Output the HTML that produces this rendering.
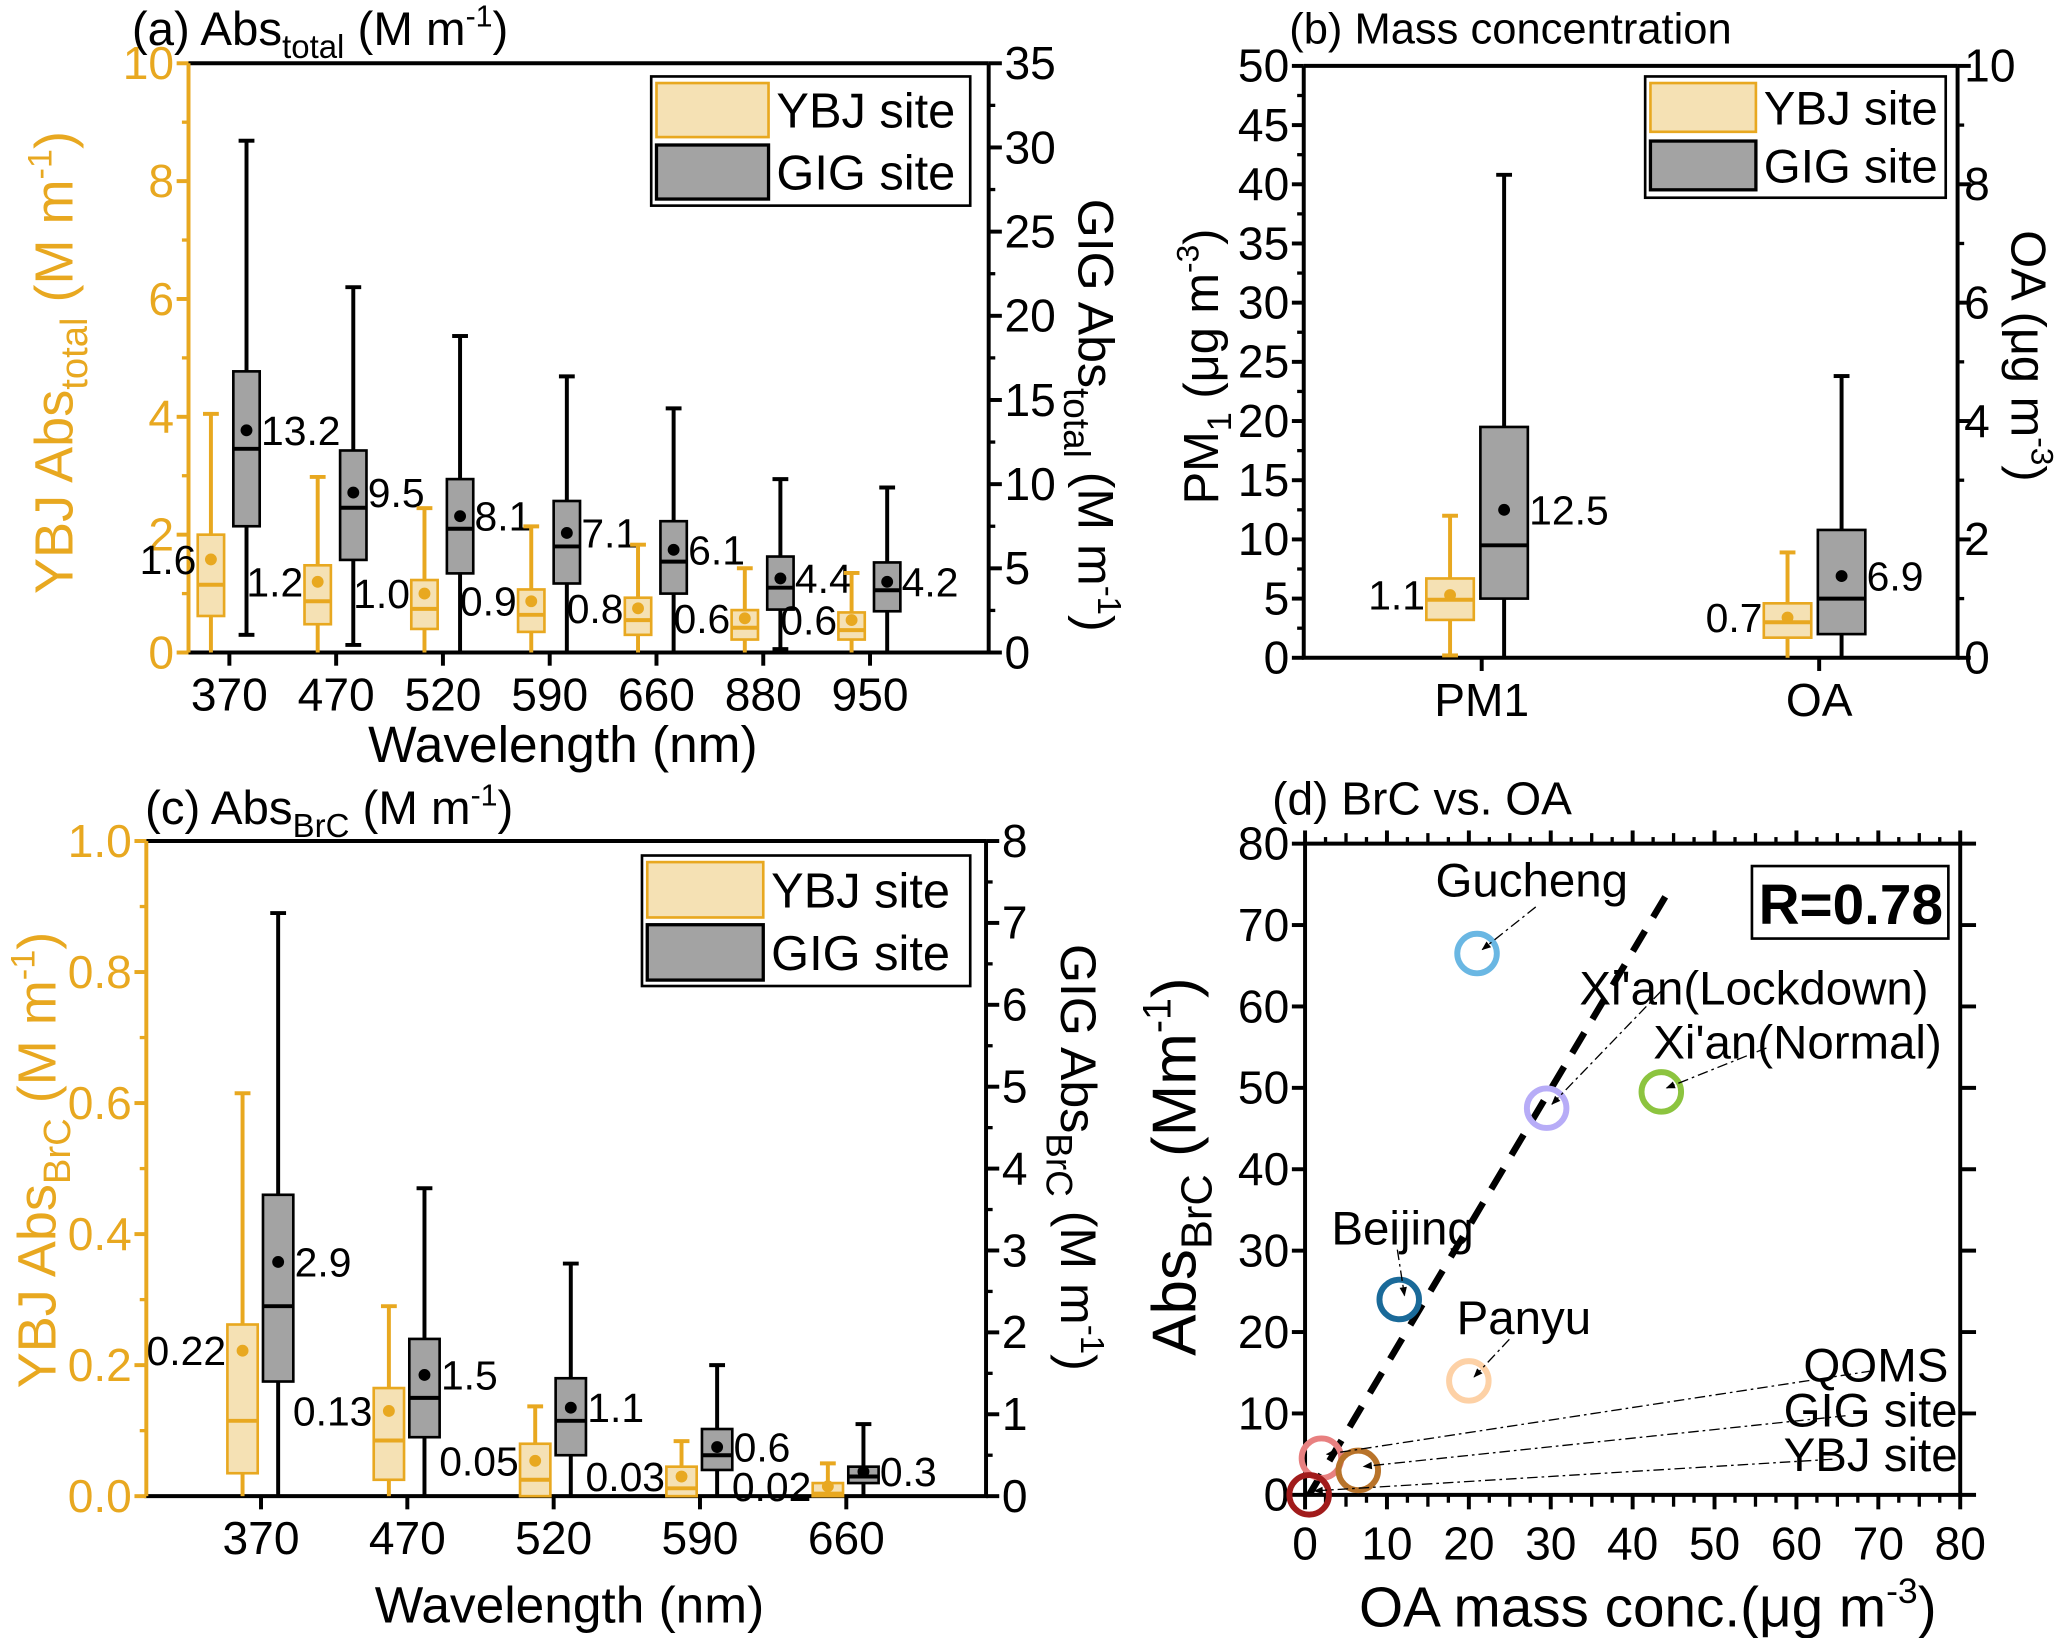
<!DOCTYPE html>
<html><head><meta charset="utf-8">
<style>
html,body{margin:0;padding:0;background:#fff;}
svg{display:block;}
text{font-family:"Liberation Sans",Arial,sans-serif;}
</style></head>
<body>
<svg id="fig" xmlns="http://www.w3.org/2000/svg" width="2067" height="1638" viewBox="0 0 1568 1242.6" preserveAspectRatio="none">
<defs>
<marker id="arr" viewBox="0 0 10 10" refX="9" refY="5" markerWidth="9" markerHeight="7" orient="auto" markerUnits="userSpaceOnUse"><path d="M0,1 L10,5 L0,9 z" fill="#000"/></marker>
</defs>
</svg>
<script>
// ---------- Panel (a) data ----------
const aCats=['370','470','520','590','660','880','950'];
const aYbjMin=[0,0,0,0,0,0,0];
const aYbjQ1=[0.62,0.48,0.40,0.35,0.30,0.22,0.22];
const aYbjMed=[1.15,0.87,0.74,0.64,0.55,0.42,0.38];
const aYbjQ3=[2.0,1.48,1.23,1.07,0.93,0.72,0.68];
const aYbjMax=[4.05,2.98,2.45,2.14,1.83,1.43,1.35];
const aYbjMean=[1.58,1.2,1.0,0.87,0.75,0.58,0.55];
const aYbjLabels=['1.6','1.2','1.0','0.9','0.8','0.6','0.6'];
const aGigMin=[1.05,0.45,0,0,0,0.2,0];
const aGigQ1=[7.5,5.5,4.7,4.1,3.5,2.55,2.45];
const aGigMed=[12.1,8.6,7.35,6.3,5.4,3.85,3.7];
const aGigQ3=[16.7,12.0,10.3,9.0,7.8,5.7,5.35];
const aGigMax=[30.4,21.7,18.8,16.4,14.5,10.3,9.8];
const aGigMean=[13.2,9.5,8.1,7.1,6.1,4.4,4.2];
const aGigLabels=['13.2','9.5','8.1','7.1','6.1','4.4','4.2'];
const aLeftTicks=[0,2,4,6,8,10];
const aRightTicks=[0,5,10,15,20,25,30,35];
// ---------- Panel (b) data ----------
const bCats=['PM1','OA'];
const bYbjMin=[0.2,0];
const bYbjQ1=[3.2,1.7];
const bYbjMed=[4.9,3.0];
const bYbjQ3=[6.7,4.6];
const bYbjMax=[12.0,8.9];
const bYbjMean=[5.3,3.4];
const bYbjLabels=['1.1','0.7'];
const bGigMin=[0,0];
const bGigQ1=[5.0,2.0];
const bGigMed=[9.5,5.0];
const bGigQ3=[19.5,10.8];
const bGigMax=[40.8,23.8];
const bGigMean=[12.5,6.9];
const bGigLabels=['12.5','6.9'];
const bLeftTicks=[0,5,10,15,20,25,30,35,40,45,50];
const bRightTicks=[0,2,4,6,8,10];
// ---------- Panel (c) data ----------
const cCats=['370','470','520','590','660'];
const cYbjMin=[0,0,0,0,0];
const cYbjQ1=[0.035,0.025,0.0,0.0,0.0];
const cYbjMed=[0.115,0.085,0.025,0.012,0.004];
const cYbjQ3=[0.262,0.165,0.08,0.045,0.02];
const cYbjMax=[0.615,0.29,0.137,0.084,0.05];
const cYbjMean=[0.222,0.13,0.054,0.03,0.015];
const cYbjLabels=['0.22','0.13','0.05','0.03','0.02'];
const cGigMin=[0,0,0,0,0];
const cGigQ1=[1.4,0.72,0.5,0.32,0.16];
const cGigMed=[2.32,1.2,0.92,0.5,0.24];
const cGigQ3=[3.68,1.92,1.44,0.82,0.36];
const cGigMax=[7.12,3.76,2.84,1.6,0.88];
const cGigMean=[2.86,1.48,1.08,0.6,0.3];
const cGigLabels=['2.9','1.5','1.1','0.6','0.3'];
const cLeftTicks=[0,0.2,0.4,0.6,0.8,1.0];
const cRightTicks=[0,1,2,3,4,5,6,7,8];
// ---------- Panel (d) data ----------
const dSites=['Gucheng',"Xi'an(Lockdown)","Xi'an(Normal)",'Beijing','Panyu','QOMS','GIG site','YBJ site'];
const dOA=[21,29.5,43.5,11.5,20,2,6.5,0.5];
const dBrC=[66.5,47.5,49.5,24,14,4.5,3,0];
const dColors=['#6ab7e3','#b7acf7','#8cc43f','#1a6a99','#fdd1a6','#e88080','#b8732a','#a11b1b'];
const dFitX=[0.5,44];
const dFitY=[0,73.5];
const dTicks=[0,10,20,30,40,50,60,70,80];

const NS='http://www.w3.org/2000/svg';
const svg=document.getElementById('fig');
const OR='#e8a820', ORF='#f5e1b4', GR='#a3a3a3';
const TK=35;
function mk(tag,attrs,parent,txt){const e=document.createElementNS(NS,tag);for(const k in attrs)e.setAttribute(k,attrs[k]);if(txt!==undefined)e.textContent=txt;(parent||svg).appendChild(e);return e;}
function grp(name){const g=mk('g',{});


return g;}
function line(p,x1,y1,x2,y2,c,w,extra){const o={x1,y1,x2,y2,stroke:c,'stroke-width':w};if(extra)Object.assign(o,extra);return mk('line',o,p);}
function txt(p,x,y,s,size,fill,anchor,name,extra){const o={x,y,'font-size':size,fill:fill||'#000','text-anchor':anchor||'middle'};if(extra)Object.assign(o,extra);const t=mk('text',o,p);
t.innerHTML=s;


return t;}

function boxplot(g,cx,w,mn,q1,md,q3,mx,mean,yf,stroke,fill,dot,name){
  const b=grp(name); g.appendChild(b);
  line(b,cx,yf(mn),cx,yf(q1),stroke,3);
  line(b,cx,yf(q3),cx,yf(mx),stroke,3);
  line(b,cx-6,yf(mx),cx+6,yf(mx),stroke,3);
  if(mn>0.001) line(b,cx-6,yf(mn),cx+6,yf(mn),stroke,3);
  mk('rect',{x:cx-w/2,y:yf(q3),width:w,height:Math.max(yf(q1)-yf(q3),1),fill,stroke,'stroke-width':2},b);
  line(b,cx-w/2,yf(md),cx+w/2,yf(md),stroke,3);
  mk('circle',{cx,cy:yf(mean),r:4.5,fill:dot},b);
}

function legend(g,x,y,w,h,pw,ph,fs){
  const L=grp('legend'); g.appendChild(L);
  mk('rect',{x,y,width:w,height:h,fill:'#fff',stroke:'#000','stroke-width':2},L);
  const r1=mk('rect',{x:x+4,y:y+5,width:pw,height:ph,fill:ORF,stroke:OR,'stroke-width':2},L);
  
  
  const r2=mk('rect',{x:x+4,y:y+h/2+3,width:pw,height:ph,fill:GR,stroke:'#000','stroke-width':2.5},L);
  
  
  txt(L,x+pw+10,y+5+ph/2+fs*0.36,'YBJ site',fs,'#000','start','legend-entry-ybj');
  txt(L,x+pw+10,y+h/2+3+ph/2+fs*0.36,'GIG site',fs,'#000','start','legend-entry-gig');
}

function boxPanel(cfg){
  const g=grp(cfg.name);
  const {L,R,T,B}=cfg;
  const yl=v=>B-(v-0)/(cfg.lmax)*(B-T);
  const yr=v=>B-(v-0)/(cfg.rmax)*(B-T);
  const xc=i=>cfg.x0+cfg.dx*i;
  line(g,L,T,R,T,'#000',3);
  line(g,L-1.5,B,R+1.5,B,'#000',3);
  line(g,L,T,L,B,cfg.lcol,3);
  line(g,R,T,R,B,'#000',3);
  cfg.lt.forEach((v,i)=>{line(g,L,yl(v),L-9,yl(v),cfg.lcol,3);
    txt(g,L-11,yl(v)+12,cfg.lfmt(v),TK,cfg.lcol,'end','left-tick-label');
    if(i<cfg.lt.length-1){const m=(v+cfg.lt[i+1])/2;line(g,L,yl(m),L-5,yl(m),cfg.lcol,2.5);}});
  cfg.rt.forEach((v,i)=>{line(g,R,yr(v),R+10,yr(v),'#000',3);
    txt(g,R+12,yr(v)+12,cfg.rfmt(v),TK,'#000','start','right-tick-label');
    if(i<cfg.rt.length-1){const m=(v+cfg.rt[i+1])/2;line(g,R,yr(m),R+5,yr(m),'#000',2.5);}});
  cfg.cats.forEach((c,i)=>{line(g,xc(i),B,xc(i),B+10,'#000',3);
    txt(g,xc(i),B+44,c,TK,'#000','middle','x-tick-label');});
  cfg.cats.forEach((c,i)=>{
    const cx1=xc(i)+cfg.off1, cx2=xc(i)+cfg.off2;
    boxplot(g,cx1,cfg.bw,cfg.y.min[i],cfg.y.q1[i],cfg.y.med[i],cfg.y.q3[i],cfg.y.max[i],cfg.y.mean[i],yl,OR,ORF,OR,'box-ybj-'+c);
    boxplot(g,cx2,cfg.bw,cfg.g.min[i],cfg.g.q1[i],cfg.g.med[i],cfg.g.q3[i],cfg.g.max[i],cfg.g.mean[i],yr,'#000',GR,'#000','box-gig-'+c);
    txt(g,cx1-cfg.bw/2-1,yl(cfg.y.mean[i])+11,cfg.y.lab[i],31,'#000','end','mean-label-ybj');
    txt(g,cx2+cfg.bw/2+1,yr(cfg.g.mean[i])+11,cfg.g.lab[i],31,'#000','start','mean-label-gig');
  });
  return g;
}

// Panel a
const ga=boxPanel({name:'panel-a',L:143,R:750,T:48,B:495,lmax:10,rmax:35,lcol:OR,
  lt:aLeftTicks,rt:aRightTicks,lfmt:v=>String(v),rfmt:v=>String(v),cats:aCats,x0:174,dx:81,off1:-14,off2:13,bw:20,
  y:{min:aYbjMin,q1:aYbjQ1,med:aYbjMed,q3:aYbjQ3,max:aYbjMax,mean:aYbjMean,lab:aYbjLabels},
  g:{min:aGigMin,q1:aGigQ1,med:aGigMed,q3:aGigQ3,max:aGigMax,mean:aGigMean,lab:aGigLabels}});
legend(ga,494,58,242,98,85,41,37);
txt(ga,100,34,'(a) Abs<tspan font-size="25" dy="10">total</tspan><tspan dy="-10"> (M m</tspan><tspan font-size="23" dy="-14">-1</tspan><tspan dy="14">)</tspan>',36,'#000','start','panel-a-title');
txt(ga,427,578,'Wavelength (nm)',39,'#000','middle','x-axis-title-a');
txt(ga,0,0,'YBJ Abs<tspan font-size="29" dy="11">total</tspan><tspan dy="-11"> (M m</tspan><tspan font-size="26" dy="-16">-1</tspan><tspan dy="16">)</tspan>',41,OR,'middle','y-axis-title-a-left',{transform:'translate(55,275) rotate(-90)'});
txt(ga,0,0,'GIG Abs<tspan font-size="28" dy="11">total</tspan><tspan dy="-11"> (M m</tspan><tspan font-size="25" dy="-15">-1</tspan><tspan dy="15">)</tspan>',38,'#000','middle','y-axis-title-a-right',{transform:'translate(818,315) rotate(90)'});

// Panel b
const gb2=boxPanel({name:'panel-b',L:989,R:1485,T:50,B:499,lmax:50,rmax:50,lcol:'#000',
  lt:bLeftTicks,rt:[],lfmt:v=>String(v),rfmt:v=>String(v),cats:bCats,x0:1124,dx:256,off1:-24,off2:17,bw:36,
  y:{min:bYbjMin,q1:bYbjQ1,med:bYbjMed,q3:bYbjQ3,max:bYbjMax,mean:bYbjMean,lab:bYbjLabels},
  g:{min:bGigMin,q1:bGigQ1,med:bGigMed,q3:bGigQ3,max:bGigMax,mean:bGigMean,lab:bGigLabels}});
(function(){const B=499,T=50,R=1485;const yr=v=>B-v/10*(B-T);
  bRightTicks.forEach((v,i)=>{line(gb2,R,yr(v),R+10,yr(v),'#000',3);
    txt(gb2,R+5,yr(v)+12,String(v),TK,'#000','start','right-tick-label');
    if(i<bRightTicks.length-1){const m=v+1;line(gb2,R,yr(m),R+5,yr(m),'#000',2.5);}});})();
legend(gb2,1248,58,228,92,80,37,36);
txt(gb2,978,33,'(b) Mass concentration',33,'#000','start','panel-b-title');
txt(gb2,0,0,'PM<tspan font-size="26" dy="10">1</tspan><tspan dy="-10">  (μg m</tspan><tspan font-size="24" dy="-15">-3</tspan><tspan dy="15">)</tspan>',37,'#000','middle','y-axis-title-b-left',{transform:'translate(924,278) rotate(-90)'});
txt(gb2,0,0,'OA (μg m<tspan font-size="24" dy="-15">-3</tspan><tspan dy="15">)</tspan>',37,'#000','middle','y-axis-title-b-right',{transform:'translate(1526,270) rotate(90)'});

// Panel c
const gc=boxPanel({name:'panel-c',L:111,R:748,T:638,B:1135,lmax:1,rmax:8,lcol:OR,
  lt:cLeftTicks,rt:cRightTicks,lfmt:v=>v.toFixed(1),rfmt:v=>String(v),cats:cCats,x0:198,dx:111,off1:-14,off2:13,bw:23,
  y:{min:cYbjMin,q1:cYbjQ1,med:cYbjMed,q3:cYbjQ3,max:cYbjMax,mean:cYbjMean,lab:cYbjLabels},
  g:{min:cGigMin,q1:cGigQ1,med:cGigMed,q3:cGigQ3,max:cGigMax,mean:cGigMean,lab:cGigLabels}});
legend(gc,487,649,249,99,88,42,37);
txt(gc,110,625,'(c) Abs<tspan font-size="25" dy="10">BrC</tspan><tspan dy="-10"> (M m</tspan><tspan font-size="23" dy="-14">-1</tspan><tspan dy="14">)</tspan>',36,'#000','start','panel-c-title');
txt(gc,432,1231,'Wavelength (nm)',39,'#000','middle','x-axis-title-c');
txt(gc,0,0,'YBJ Abs<tspan font-size="29" dy="11">BrC</tspan><tspan dy="-11"> (M m</tspan><tspan font-size="26" dy="-16">-1</tspan><tspan dy="16">)</tspan>',41,OR,'middle','y-axis-title-c-left',{transform:'translate(42,880) rotate(-90)'});
txt(gc,0,0,'GIG Abs<tspan font-size="28" dy="11">BrC</tspan><tspan dy="-11"> (M m</tspan><tspan font-size="25" dy="-15">-1</tspan><tspan dy="15">)</tspan>',38,'#000','middle','y-axis-title-c-right',{transform:'translate(805,878) rotate(90)'});

// Panel d
(function(){
  const g=grp('panel-d');
  const L=990,R=1487,T=640,B=1134;
  const xs=v=>L+v/80*(R-L), ys=v=>B-v/80*(B-T);
  line(g,L,T,R,T,'#000',3);line(g,L-1.5,B,R+1.5,B,'#000',3);line(g,L,T,L,B,'#000',3);line(g,R,T,R,B,'#000',3);
  dTicks.forEach((v,i)=>{
    line(g,L,ys(v),L-10,ys(v),'#000',3);line(g,R,ys(v),R+12,ys(v),'#000',3);
    line(g,xs(v),B,xs(v),B+11,'#000',3);line(g,xs(v),T,xs(v),T-10,'#000',3);
    txt(g,L-12,ys(v)+12,String(v),TK,'#000','end','y-tick-label-d');
    txt(g,xs(v),B+49,String(v),TK,'#000','middle','x-tick-label-d');
    if(i<dTicks.length-1){[1,2,3].forEach(k=>{const m=v+k*2.5;
      line(g,xs(m),B,xs(m),B+(k==2?9:6),'#000',2.5);line(g,xs(m),T,xs(m),T-(k==2?8:5),'#000',2.5);});}
  });
  const fl=line(g,xs(dFitX[0]),ys(dFitY[0]),xs(dFitX[1]),ys(dFitY[1]),'#000',5,{'stroke-dasharray':'18 12'});
  
  
  const lab=[[1162,680,'middle'],[1463,762,'end'],[1473,803,'end'],[1064,944,'middle'],[1156,1012,'middle'],[1478,1048,'end'],[1485,1082,'end'],[1485,1116,'end']];
  const lead=[[1165,688],[1260,752],[1340,795],[1060,948],[1145,1016],[1420,1040],[1400,1074],[1390,1107]];
  dSites.forEach((s,i)=>{
    const c=mk('circle',{cx:xs(dOA[i]),cy:ys(dBrC[i]),r:15,fill:'none',stroke:dColors[i],'stroke-width':4.5},g);
    
    
  });
  dSites.forEach((s,i)=>{
    const a=mk('line',{x1:lead[i][0],y1:lead[i][1],x2:xs(dOA[i])+4,y2:ys(dBrC[i])-3,stroke:'#000','stroke-width':1,'stroke-dasharray':'8 3 2 3','marker-end':'url(#arr)'},g);
    
    
    txt(g,lab[i][0],lab[i][1],s,36,'#000',lab[i][2],'site-label');
  });
  const rb=mk('rect',{x:1329,y:657,width:149,height:55,fill:'#fff',stroke:'#000','stroke-width':2},g);
  
  
  txt(g,1404,701,'R=0.78',43,'#000','middle','r-value',{'font-weight':'bold'});
  txt(g,965,618,'(d) BrC vs. OA',35,'#000','start','panel-d-title');
  txt(g,1250,1234,'OA mass conc.(μg m<tspan font-size="27" dy="-18">-3</tspan><tspan dy="18">)</tspan>',43,'#000','middle','x-axis-title-d');
  txt(g,0,0,'Abs<tspan font-size="33" dy="12">BrC</tspan><tspan dy="-12"> (Mm</tspan><tspan font-size="30" dy="-19">-1</tspan><tspan dy="19">)</tspan>',47,'#000','middle','y-axis-title-d',{transform:'translate(907,885) rotate(-90)'});
})();
</script>
</body></html>
